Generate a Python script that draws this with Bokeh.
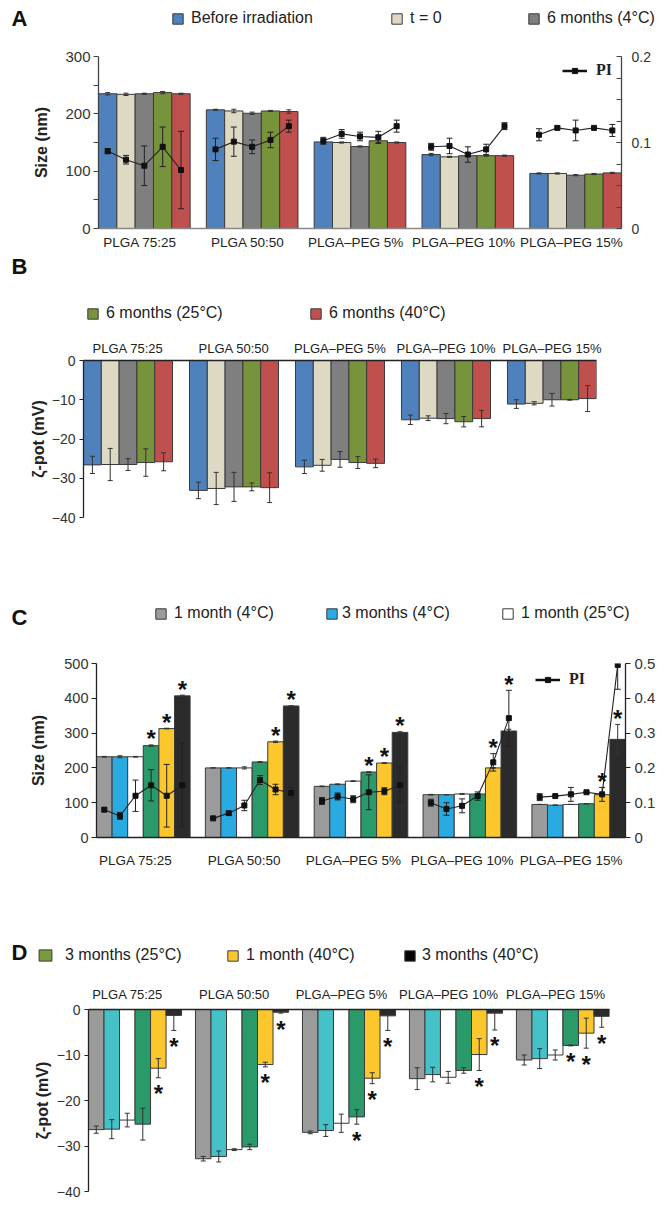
import numpy as np
from bokeh.plotting import figure
from bokeh.models import (Range1d, LinearAxis, FixedTicker, ColumnDataSource,
                          Legend, LegendItem, Label)
from bokeh.layouts import column, row
from bokeh.embed import file_html
from bokeh.resources import INLINE
from bokeh.core.properties import value

FONT = "Liberation Sans"
SERIF = "Liberation Serif"
INK = "#222222"
MINUS = "\u2212"
PAGE_W = 670

groups = ["PLGA 75:25", "PLGA 50:50", "PLGA\u2013PEG 5%", "PLGA\u2013PEG 10%", "PLGA\u2013PEG 15%"]

# ---------------- Panel A: size (nm) and PI after irradiation ----------------
a_series = ["Before irradiation", "t = 0", "6 months (4°C)", "6 months (25°C)", "6 months (40°C)"]
a_colors = ["#4f81bd", "#ddd9c3", "#7f7f7f", "#77933c", "#c0504d"]
a_size_before = [235, 207, 151, 129, 96]
a_size_t0 = [234, 205, 150, 125, 96]
a_size_4 = [235, 201, 143, 127, 93]
a_size_25 = [237, 205, 153, 127, 95]
a_size_40 = [235, 204, 150, 127, 97]
a_size = [a_size_before, a_size_t0, a_size_4, a_size_25, a_size_40]
a_size_err = [[2, 1, 3, 2, 1], [2, 3, 1, 1, 1], [1, 2, 1, 1, 1], [2, 1, 3, 1, 1], [1, 3, 1, 1, 1]]
a_pi = [[0.090, 0.092, 0.102, 0.095, 0.109],
        [0.080, 0.101, 0.110, 0.096, 0.117],
        [0.073, 0.095, 0.107, 0.086, 0.114],
        [0.095, 0.103, 0.106, 0.092, 0.117],
        [0.068, 0.119, 0.119, 0.119, 0.114]]
a_pi_err = [[0.003, 0.013, 0.004, 0.004, 0.007],
            [0.005, 0.017, 0.005, 0.009, 0.002],
            [0.023, 0.008, 0.005, 0.009, 0.012],
            [0.023, 0.009, 0.007, 0.006, 0.001],
            [0.045, 0.007, 0.007, 0.004, 0.007]]

# ---------------- Panel B: zeta potential (mV) ----------------
b_zeta = [[-26.6, -33.1, -27.1, -15.1, -11.1],
          [-26.5, -32.6, -26.7, -14.7, -10.9],
          [-26.5, -32.2, -25.2, -14.8, -10.0],
          [-26.0, -32.2, -26.0, -15.6, -10.0],
          [-25.8, -32.4, -26.2, -14.8, -9.7]]
b_zeta_err = [[2.2, 2.1, 1.7, 1.2, 1.1],
              [4.1, 4.1, 1.5, 0.6, 0.4],
              [1.5, 3.7, 2.0, 1.3, 1.6],
              [3.5, 1.0, 1.5, 1.3, 0.1],
              [2.3, 3.8, 1.1, 2.1, 3.3]]

# ---------------- Panel C: size (nm) and PI during storage ----------------
c_series = ["1 month (4°C)", "3 months (4°C)", "1 month (25°C)",
            "3 months (25°C)", "1 month (40°C)", "3 months (40°C)"]
c_colors = ["#9b9b9b", "#29abe2", "#ffffff", "#2a9a6a", "#fcc72c", "#2b2b2b"]
c_size = [[232, 200, 147, 123, 95],
          [232, 200, 153, 123, 93],
          [232, 200, 162, 125, 95],
          [264, 217, 188, 125, 97],
          [313, 275, 214, 200, 123],
          [407, 378, 302, 306, 282]]
c_size_err = [[1, 0, 1, 1, 0], [3, 0, 1, 0, 0], [1, 3, 1, 1, 0],
              [2, 1, 1, 0, 0], [1, 2, 1, 1, 1], [2, 0, 2, 5, 43]]
c_pi = [[0.080, 0.055, 0.105, 0.100, 0.116],
        [0.062, 0.070, 0.118, 0.082, 0.119],
        [0.120, 0.092, 0.110, 0.091, 0.124],
        [0.150, 0.165, 0.130, 0.119, 0.130],
        [0.120, 0.138, 0.133, 0.216, 0.124],
        [0.150, 0.128, 0.150, 0.343, 0.496]]
c_pi_err = [[0.005, 0.0, 0.010, 0.010, 0.010],
            [0.010, 0.005, 0.010, 0.018, 0.0],
            [0.045, 0.015, 0.010, 0.020, 0.020],
            [0.045, 0.013, 0.050, 0.012, 0.003],
            [0.090, 0.015, 0.010, 0.025, 0.020],
            [0.120, 0.015, 0.050, 0.080, 0.070]]
c_star = [[0, 0, 0, 0, 0], [0, 0, 0, 0, 0], [0, 0, 0, 0, 0],
          [1, 0, 1, 0, 0], [1, 1, 1, 1, 1], [1, 1, 1, 1, 1]]

# ---------------- Panel D: zeta potential (mV) during storage ----------------
d_colors = ["#9b9b9b", "#45c1c8", "#ffffff", "#2a9a6a", "#fcc72c", "#2b2b2b"]
d_key_colors = ["#7a9b3d", "#fcc72c", "#050505"]
d_zeta = [[-26.4, -32.8, -27.0, -15.2, -11.1],
          [-26.3, -32.3, -26.6, -14.3, -10.8],
          [-24.3, -30.8, -25.0, -14.9, -10.0],
          [-25.2, -30.2, -23.6, -13.4, -7.9],
          [-12.9, -12.1, -15.1, -9.9, -5.2],
          [-1.3, -0.6, -1.4, -0.8, -1.5]]
d_zeta_err = [[0.8, 0.5, 0.3, 2.4, 1.1],
              [2.1, 1.2, 1.3, 1.6, 2.2],
              [1.5, 0.2, 2.0, 1.3, 1.1],
              [3.5, 0.6, 1.6, 0.6, 0.1],
              [2.1, 0.5, 1.2, 3.5, 3.3],
              [3.3, 0.2, 3.2, 3.7, 2.4]]
d_star = [[0, 0, 0, 0, 0], [0, 0, 0, 0, 0], [0, 0, 0, 0, 0],
          [0, 0, 1, 0, 1], [1, 1, 1, 1, 1], [1, 1, 1, 1, 1]]

NG = len(groups)

# frame geometry in page pixels: frame left, right, top, bottom, figure top, figure bottom
GEO_A = (98, 621, 56, 228, 40, 252)
GEO_B = (83, 596, 360, 517, 335, 580)
GEO_C = (96, 625, 663, 837, 640, 885)
GEO_D = (88, 609, 1009, 1191, 975, 1203)
HEAD_A = (0, 40)
HEAD_B = (252, 335)
HEAD_C = (580, 640)
HEAD_D = (885, 975)


def new_fig(geo, gw, yr, xloc="below"):
    fl, fr, ft, fb, top, bot = geo
    p = figure(frame_width=fr - fl, frame_height=fb - ft,
               min_border_left=fl, min_border_right=PAGE_W - fr,
               min_border_top=ft - top, min_border_bottom=bot - fb,
               x_range=Range1d(-gw / 2, NG - 1 + gw / 2), y_range=yr,
               x_axis_location=xloc, output_backend="svg", toolbar_location=None)
    p.outline_line_color = None
    p.xgrid.visible = False
    p.ygrid.visible = False
    p.background_fill_color = "white"
    p.border_fill_color = "white"
    return p


def new_header(span):
    top, bot = span
    h = bot - top
    p = figure(frame_width=PAGE_W, frame_height=h, min_border_left=0, min_border_right=0,
               min_border_top=0, min_border_bottom=0,
               x_range=Range1d(0, PAGE_W), y_range=Range1d(0, h),
               x_axis_location=None, y_axis_location=None,
               output_backend="svg", toolbar_location=None)
    p.outline_line_color = None
    p.xgrid.visible = False
    p.ygrid.visible = False
    p.background_fill_color = "white"
    p.border_fill_color = "white"
    return p


def style_axis(ax, size="15px", line_color=INK, tick_out=5, tick_in=0, standoff=3):
    ax.axis_line_color = line_color
    ax.axis_line_width = 1.3
    ax.major_tick_line_color = line_color
    ax.minor_tick_line_color = line_color
    ax.major_tick_out = tick_out
    ax.major_tick_in = tick_in
    ax.minor_tick_out = tick_out
    ax.minor_tick_in = tick_in
    ax.major_label_text_font = FONT
    ax.major_label_text_font_size = size
    ax.major_label_text_color = "#333333"
    ax.major_label_standoff = standoff
    ax.axis_label_text_font = FONT
    ax.axis_label_text_font_style = "bold"
    ax.axis_label_text_font_size = "16px"
    ax.axis_label_text_color = INK


def group_axis(ax, shift, standoff, line_color=INK, size="13.5px"):
    ticks = [round(g + shift, 2) for g in range(NG)]
    ax.ticker = FixedTicker(ticks=ticks)
    ax.major_label_overrides = {t: groups[i] for i, t in enumerate(ticks)}
    style_axis(ax, size=size, line_color=line_color, tick_out=0, standoff=standoff)
    ax.major_label_text_color = INK


def draw_bars(p, values, errors, colors, gw):
    n = len(values)
    bw = gw / n
    offsets = [-gw / 2 + bw * (j + 0.5) for j in range(n)]
    rends, srcs = [], []
    for j in range(n):
        xs = [g + offsets[j] for g in range(NG)]
        v = values[j]
        e = errors[j]
        src = ColumnDataSource(dict(x=xs, top=v,
                                    lo=[a - b for a, b in zip(v, e)],
                                    hi=[a + b for a, b in zip(v, e)]))
        r = p.vbar(x="x", top="top", bottom=0, width=bw, source=src,
                   fill_color=colors[j], line_color="#3a3a3a", line_width=1)
        rends.append(r)
        srcs.append(src)
    for src in srcs:
        p.segment(x0="x", y0="lo", x1="x", y1="hi", source=src, line_color="#333333", line_width=1)
        p.scatter(x="x", y="hi", source=src, marker="dash", size=5, line_color="#333333", line_width=1)
        p.scatter(x="x", y="lo", source=src, marker="dash", size=5, line_color="#333333", line_width=1)
    return rends, offsets


def draw_pi(p, pi, pi_err, offsets, rname):
    xs, ys = [], []
    px, py, plo, phi = [], [], [], []
    for g in range(NG):
        for j, off in enumerate(offsets):
            xs.append(g + off)
            ys.append(pi[j][g])
            px.append(g + off)
            py.append(pi[j][g])
            plo.append(pi[j][g] - pi_err[j][g])
            phi.append(pi[j][g] + pi_err[j][g])
        xs.append(np.nan)
        ys.append(np.nan)
    p.line(x=np.array(xs, dtype=float), y=np.array(ys, dtype=float), y_range_name=rname,
           line_color=INK, line_width=1.1)
    src = ColumnDataSource(dict(x=px, y=py, lo=plo, hi=phi))
    p.segment(x0="x", y0="lo", x1="x", y1="hi", source=src, y_range_name=rname,
              line_color=INK, line_width=1)
    p.scatter(x="x", y="hi", source=src, y_range_name=rname, marker="dash", size=6, line_color=INK)
    p.scatter(x="x", y="lo", source=src, y_range_name=rname, marker="dash", size=6, line_color=INK)
    p.scatter(x="x", y="y", source=src, y_range_name=rname, marker="square", size=5,
              fill_color="#111111", line_color="#111111")
    # hidden, bolder copies of the PI series used only for the "PI" key
    kl = p.line(x="x", y="y", source=src, y_range_name=rname, line_color="#111111",
                line_width=2.5, visible=False)
    ks = p.scatter(x="x", y="y", source=src, y_range_name=rname, marker="square", size=11,
                   fill_color="#111111", line_color="#111111", visible=False)
    return [kl, ks]


def make_legend(renderers, label, loc, gw_=13, gh_=13, standoff=7, font=FONT,
                size="16px", style="normal"):
    return Legend(items=[LegendItem(label=label, renderers=renderers)],
                  location=loc, orientation="horizontal",
                  padding=0, margin=0, spacing=0, glyph_width=gw_, glyph_height=gh_,
                  label_standoff=standoff, label_height=gh_, border_line_alpha=0,
                  background_fill_alpha=0, label_text_font=font, label_text_font_size=size,
                  label_text_font_style=style, label_text_color=INK,
                  inactive_fill_alpha=0)


def head_key(h, span, values, color, label, x_page, y_page, gw_=13, gh_=13, standoff=7):
    top, bot = span
    hh = bot - top
    r = h.vbar(x=list(range(NG)), top=values, width=0.5, fill_color=color,
               line_color="#3a3a3a", line_width=1, visible=False)
    H = 18
    leg = make_legend([r], label, (x_page, hh - (y_page - top) - H / 2),
                      gw_=gw_, gh_=gh_, standoff=standoff)
    h.add_layout(leg, "center")


def head_letter(h, span, letter, y_page):
    top, bot = span
    hh = bot - top
    h.add_layout(Label(x=11, y=hh - (y_page - top), x_units="screen", y_units="screen",
                       text=letter, text_font=FONT, text_font_style="bold",
                       text_font_size="22px", text_baseline="middle", text_align="left",
                       text_color="#111111"))


def pi_key(p, geo, rends, x_page, y_page):
    fl, fr, ft, fb = geo[:4]
    H = 18
    leg = make_legend(rends, "PI", (x_page - fl, fb - y_page - H / 2), gw_=25, gh_=13,
                      standoff=9, font=SERIF, size="16px", style="bold")
    p.add_layout(leg, "center")


# ================= Panel A =================
hA = new_header(HEAD_A)
head_letter(hA, HEAD_A, "A", 18)
head_key(hA, HEAD_A, a_size[0], a_colors[0], a_series[0], 171, 18)
head_key(hA, HEAD_A, a_size[1], a_colors[1], a_series[1], 390, 18)
head_key(hA, HEAD_A, a_size[2], a_colors[2], a_series[2], 527, 18)

gwA = 0.85
pA = new_fig(GEO_A, gwA, Range1d(0, 300))
pA.extra_y_ranges = {"pi": Range1d(0, 0.2)}
style_axis(pA.yaxis[0], size="15px", line_color="#444444")
pA.yaxis[0].ticker = FixedTicker(ticks=[0, 100, 200, 300], minor_ticks=[50, 150, 250])
pA.yaxis[0].axis_label = "Size (nm)"
pA.yaxis[0].axis_label_standoff = 12
group_axis(pA.xaxis[0], -0.04, 6, line_color="#888888")
axA2 = LinearAxis(y_range_name="pi",
                  ticker=FixedTicker(ticks=[0, 0.1, 0.2],
                                     minor_ticks=[0.025 * k for k in range(1, 8)]),
                  major_label_overrides={0: "0"})
style_axis(axA2, size="14px", line_color="#444444", tick_out=0, tick_in=5, standoff=10)
pA.add_layout(axA2, "right")
rA, offA = draw_bars(pA, a_size, a_size_err, a_colors, gwA)
kA = draw_pi(pA, a_pi, a_pi_err, offA, "pi")
pi_key(pA, GEO_A, kA, 562, 70)

# ================= Panel B =================
hB = new_header(HEAD_B)
head_letter(hB, HEAD_B, "B", 266)
head_key(hB, HEAD_B, b_zeta[3], a_colors[3], a_series[3], 86, 313)
head_key(hB, HEAD_B, b_zeta[4], a_colors[4], a_series[4], 309, 313)

gwB = 0.84
pB = new_fig(GEO_B, gwB, Range1d(-40, 0), xloc="above")
style_axis(pB.yaxis[0], size="14px", tick_out=4, standoff=4)
pB.yaxis[0].ticker = FixedTicker(ticks=[-40, -30, -20, -10, 0])
pB.yaxis[0].major_label_overrides = {t: (MINUS + str(-t) if t < 0 else "0") for t in [-40, -30, -20, -10, 0]}
pB.yaxis[0].axis_label = "\u03b6-pot (mV)"
pB.yaxis[0].axis_label_standoff = 2
group_axis(pB.xaxis[0], 0.0, 5, size="13px")
pB.xaxis[0].axis_line_width = 1.6
rB, offB = draw_bars(pB, b_zeta, b_zeta_err, a_colors, gwB)

# ================= Panel C =================
hC = new_header(HEAD_C)
head_letter(hC, HEAD_C, "C", 617)
head_key(hC, HEAD_C, c_size[0], c_colors[0], c_series[0], 154, 613)
head_key(hC, HEAD_C, c_size[1], c_colors[1], c_series[1], 325, 613, standoff=4)
head_key(hC, HEAD_C, c_size[2], c_colors[2], c_series[2], 501, 613)

gwC = 0.86
pC = new_fig(GEO_C, gwC, Range1d(0, 500))
pC.extra_y_ranges = {"pi": Range1d(0, 0.5)}
style_axis(pC.yaxis[0], size="14.5px", tick_out=5, standoff=3)
pC.yaxis[0].ticker = FixedTicker(ticks=[0, 100, 200, 300, 400, 500])
pC.yaxis[0].axis_label = "Size (nm)"
pC.yaxis[0].axis_label_standoff = 14
group_axis(pC.xaxis[0], -0.07, 15)
pC.xaxis[0].axis_line_width = 1.6
pi_ticks = [round(0.1 * k, 1) for k in range(6)]
axC2 = LinearAxis(y_range_name="pi", ticker=FixedTicker(ticks=pi_ticks),
                  major_label_overrides={0: "0"})
style_axis(axC2, size="15px", tick_out=5, standoff=4)
pC.add_layout(axC2, "right")
rC, offC = draw_bars(pC, c_size, c_size_err, c_colors, gwC)
kC = draw_pi(pC, c_pi, c_pi_err, offC, "pi")
sx, sy = [], []
ymaxC = 500
for j in range(len(c_size)):
    for g in range(NG):
        if c_star[j][g]:
            top = c_size[j][g] + c_size_err[j][g]
            pi_top = (c_pi[j][g] + c_pi_err[j][g]) * ymaxC / 0.5
            if pi_top < ymaxC:
                top = max(top, pi_top)
            sx.append(g + offC[j])
            sy.append(top)
pC.text(x=sx, y=sy, text=["*"] * len(sx), text_font=value(FONT), text_font_style="bold",
        text_font_size=value("24px"), text_align="center", text_baseline="middle",
        y_offset=-6, text_color="#111111")
pi_key(pC, GEO_C, kC, 535, 679)

# ================= Panel D =================
hD = new_header(HEAD_D)
head_letter(hD, HEAD_D, "D", 952)
head_key(hD, HEAD_D, d_zeta[3], d_key_colors[0], c_series[3], 37, 955, gw_=16, gh_=14, standoff=12)
head_key(hD, HEAD_D, d_zeta[4], d_key_colors[1], c_series[4], 226, 955)
head_key(hD, HEAD_D, d_zeta[5], d_key_colors[2], c_series[5], 403, 955, standoff=6)

gwD = 0.87
pD = new_fig(GEO_D, gwD, Range1d(-40, 0), xloc="above")
style_axis(pD.yaxis[0], size="14px", tick_out=4, standoff=4)
pD.yaxis[0].ticker = FixedTicker(ticks=[-40, -30, -20, -10, 0])
pD.yaxis[0].major_label_overrides = {t: (MINUS + str(-t) if t < 0 else "0") for t in [-40, -30, -20, -10, 0]}
pD.yaxis[0].axis_label = "\u03b6-pot (mV)"
pD.yaxis[0].axis_label_standoff = 3
group_axis(pD.xaxis[0], -0.07, 8, size="13px")
pD.xaxis[0].axis_line_width = 1.6
rD, offD = draw_bars(pD, d_zeta, d_zeta_err, d_colors, gwD)
tx, ty = [], []
for j in range(len(d_zeta)):
    for g in range(NG):
        if d_star[j][g]:
            tx.append(g + offD[j])
            ty.append(d_zeta[j][g] - d_zeta_err[j][g])
pD.text(x=tx, y=ty, text=["*"] * len(tx), text_font=value(FONT), text_font_style="bold",
        text_font_size=value("24px"), text_align="center", text_baseline="middle",
        y_offset=16, text_color="#111111")

layout = column(row(hA), row(pA), row(hB), row(pB), row(hC), row(pC), row(hD), row(pD),
                spacing=0)
open("out.html", "w").write(file_html(layout, INLINE))
